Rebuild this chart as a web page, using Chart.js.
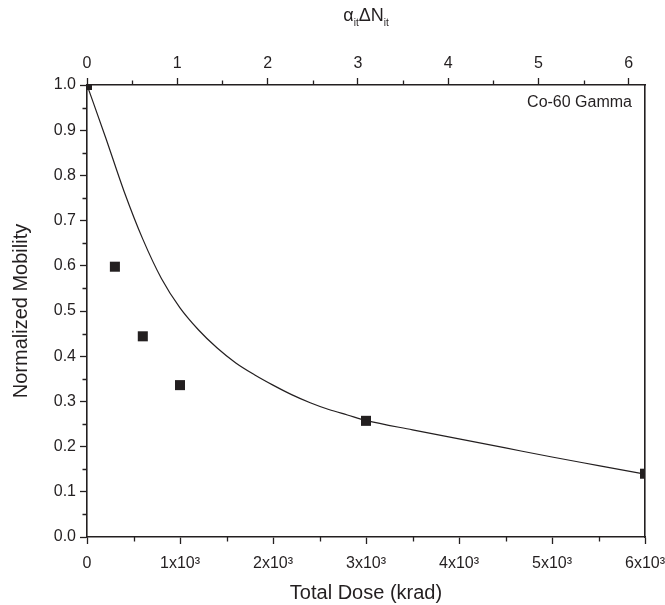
<!DOCTYPE html>
<html>
<head>
<meta charset="utf-8">
<script src="https://cdn.jsdelivr.net/npm/chart.js@4.4.1/dist/chart.umd.min.js"></script>
<style>
  html, body { margin: 0; padding: 0; background: #fff; }
  #wrap { width: 665px; height: 605px; position: relative; }
</style>
</head>
<body>
<div id="wrap"><canvas id="mob"></canvas></div>
<script>
// measured mobility after Co-60 irradiation
const doseKrad = [0, 300, 600, 1000, 3000, 6000];
const mobility = [1.0, 0.598, 0.444, 0.336, 0.257, 0.14];

// model curve, read along the plotted fit
const fitDose     = [0, 200, 400, 600, 800, 1000, 1200, 1400, 1600, 1800, 2000, 2200, 2400, 2600, 2800, 3000, 3500, 4000, 4500, 5000, 5500, 6000];
const fitMobility = [1.0, 0.884, 0.764, 0.659, 0.572, 0.507, 0.458, 0.418, 0.385, 0.359, 0.336, 0.315, 0.297, 0.282, 0.27, 0.258, 0.237, 0.217, 0.197, 0.177, 0.158, 0.139];

const yTicks = [0, 0.1, 0.2, 0.3, 0.4, 0.5, 0.6, 0.7, 0.8, 0.9, 1.0];
const doseTicks = [0, 1000, 2000, 3000, 4000, 5000, 6000];
const itTicks = [0, 1, 2, 3, 4, 5, 6];

const INK = '#231f20';
const FONT = '"Liberation Sans", Arial, sans-serif';

// short in-between ticks that Chart.js has no option for
const minorTicks = {
  id: 'minorTicks',
  afterDraw(chart){
    const {ctx, chartArea: a, scales} = chart;
    ctx.save();
    ctx.strokeStyle = INK;
    ctx.lineWidth = 1.3;
    const len = 4.5;
    ctx.beginPath();
    for(let v = 0.05; v < 1; v += 0.1){
      const y = Math.round(scales.y.getPixelForValue(v)) + 0.5;
      ctx.moveTo(a.left - len, y); ctx.lineTo(a.left, y);
    }
    for(let v = 500; v < 6000; v += 1000){
      const x = Math.round(scales.x.getPixelForValue(v)) + 0.5;
      ctx.moveTo(x, a.bottom); ctx.lineTo(x, a.bottom + len);
    }
    for(let v = 0.5; v < 6.1; v += 1){
      const x = Math.round(scales.xTop.getPixelForValue(v)) + 0.5;
      ctx.moveTo(x, a.top); ctx.lineTo(x, a.top - len);
    }
    ctx.stroke();

    // top axis title with subscripts: α_it ΔN_it
    const parts = [['\u03b1', false], ['it', true], ['\u0394N', false], ['it', true]];
    const big = '18px ' + FONT, small = '10px ' + FONT;
    let w = 0;
    parts.forEach(([t, sub]) => { ctx.font = sub ? small : big; w += ctx.measureText(t).width; });
    let x = (a.left + a.right) / 2 - w / 2;
    const base = 21;
    ctx.fillStyle = INK;
    ctx.textBaseline = 'alphabetic';
    ctx.textAlign = 'left';
    parts.forEach(([t, sub]) => {
      ctx.font = sub ? small : big;
      ctx.fillText(t, x, sub ? base + 5 : base);
      x += ctx.measureText(t).width;
    });

    // legend-like note in the corner
    ctx.font = '16px ' + FONT;
    ctx.textAlign = 'right';
    ctx.fillText('Co-60 Gamma', a.right - 13, a.top + 22);
    ctx.restore();
  }
};

// pin an axis box to a fixed size and drop the room Chart.js keeps for overhanging labels
const fixSize = (prop, px) => (scale) => {
  scale[prop] = px;
  scale.paddingLeft = 0;
  scale.paddingRight = 0;
  scale.paddingTop = 0;
  scale.paddingBottom = 0;
};

new Chart(document.getElementById('mob'), {
  type: 'scatter',
  data: {
    datasets: [
      {
        type: 'line',
        label: 'fit',
        data: fitDose.map((d, i) => ({x: d, y: fitMobility[i]})),
        borderColor: INK,
        borderWidth: 1.2,
        pointRadius: 0,
        cubicInterpolationMode: 'monotone',
        fill: false,
        clip: 0
      },
      {
        label: 'measured',
        data: doseKrad.map((d, i) => ({x: d, y: mobility[i]})),
        pointStyle: 'rect',
        pointRadius: 7.1,
        backgroundColor: INK,
        borderColor: INK,
        borderWidth: 0,
        clip: 0
      }
    ]
  },
  options: {
    responsive: true,
    maintainAspectRatio: false,
    animation: false,
    layout: { padding: 0 },
    plugins: { legend: { display: false }, tooltip: { enabled: false } },
    scales: {
      x: {
        type: 'linear', position: 'bottom', min: 0, max: 6000,
        afterBuildTicks: s => { s.ticks = doseTicks.map(v => ({value: v})); },
        afterFit: fixSize('height', 68),
        grid: { drawOnChartArea: false, drawTicks: true, tickLength: 7, tickWidth: 1.3, tickColor: INK },
        border: { display: true, color: INK, width: 1.6 },
        ticks: {
          color: INK, font: { family: FONT, size: 16 }, padding: 10, maxRotation: 0,
          callback: v => v === 0 ? '0' : (v / 1000) + 'x10\u00b3'
        },
        title: { display: true, text: 'Total Dose (krad)', color: INK, font: { family: FONT, size: 20 }, padding: { top: 0, bottom: 0 } }
      },
      xTop: {
        type: 'linear', position: 'top', min: 0, max: 6.18,
        afterBuildTicks: s => { s.ticks = itTicks.map(v => ({value: v})); },
        afterFit: fixSize('height', 85),
        grid: { drawOnChartArea: false, tickLength: 7, tickWidth: 1.3, tickColor: INK },
        border: { display: true, color: INK, width: 1.6 },
        ticks: { color: INK, font: { family: FONT, size: 16 }, padding: 5, maxRotation: 0 }
      },
      y: {
        type: 'linear', position: 'left', min: 0, max: 1,
        afterBuildTicks: s => { s.ticks = yTicks.map(v => ({value: v})); },
        afterFit: fixSize('width', 87),
        grid: { drawOnChartArea: false, tickLength: 7, tickWidth: 1.3, tickColor: INK },
        border: { display: true, color: INK, width: 1.6 },
        ticks: { color: INK, font: { family: FONT, size: 16 }, padding: 4, callback: v => v.toFixed(1) },
        title: { display: true, text: 'Normalized Mobility', color: INK, font: { family: FONT, size: 20 }, padding: { top: 9, bottom: 0 } }
      },
      yRight: {
        type: 'linear', position: 'right', min: 0, max: 1,
        afterFit: fixSize('width', 20),
        grid: { display: false },
        border: { display: true, color: INK, width: 1.6 },
        ticks: { display: false }
      }
    }
  },
  plugins: [minorTicks]
});
</script>
</body>
</html>
